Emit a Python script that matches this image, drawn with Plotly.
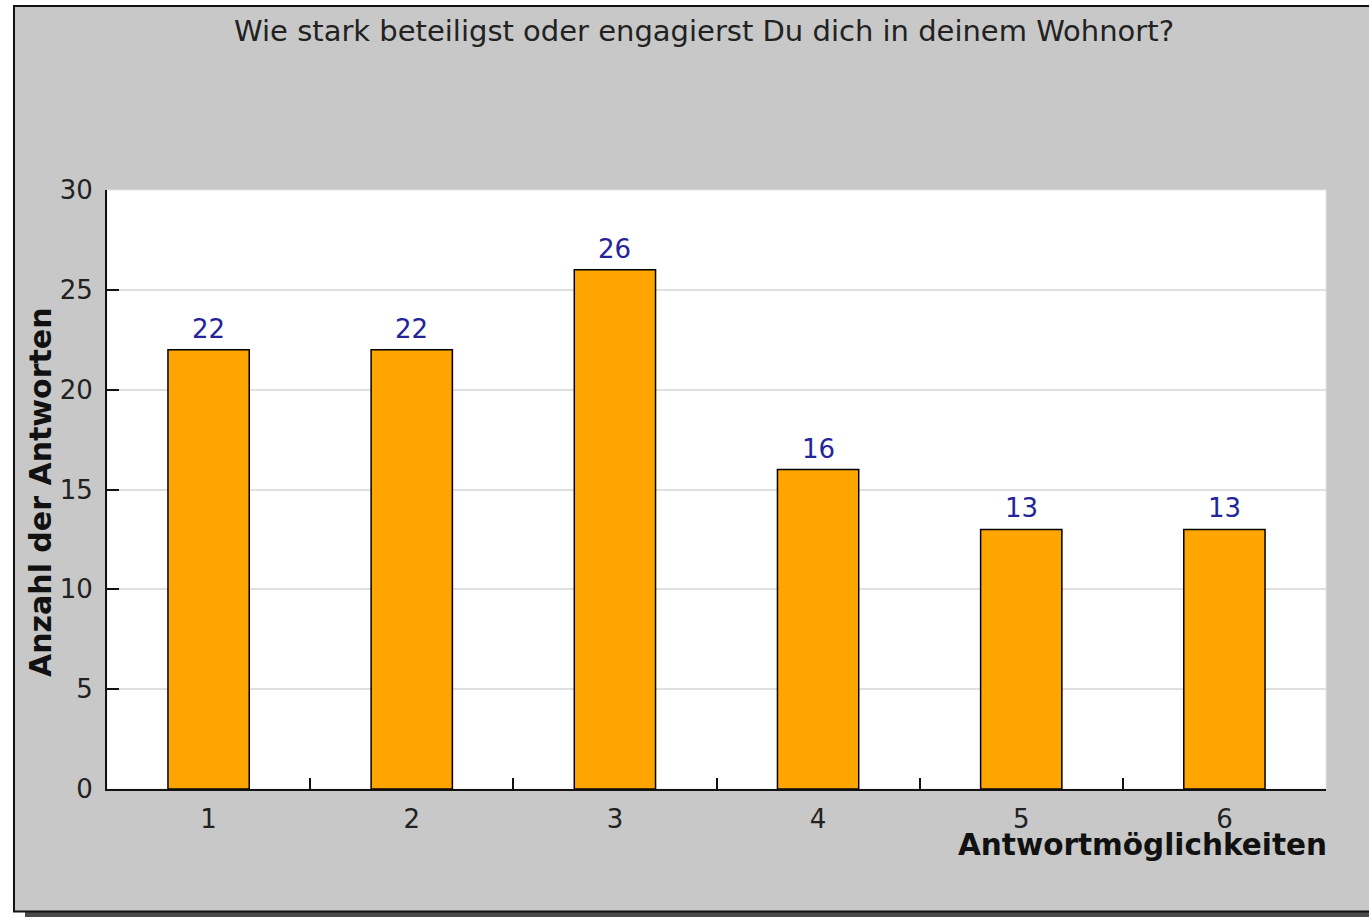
import plotly.graph_objects as go

categories = ["1", "2", "3", "4", "5", "6"]
values = [22, 22, 26, 16, 13, 13]
y_ticks = [0, 5, 10, 15, 20, 25, 30]

title_text = "Wie stark beteiligst oder engagierst Du dich in deinem Wohnort?"
x_title = "Antwortmöglichkeiten"
y_title = "Anzahl der Antworten"

W, H = 1369, 917
L, R, T, B = 107, 43, 190, 128
PW, PH = W - L - R, H - T - B

def px(x):
    return (x - L) / PW

def py(y):
    return (H - B - y) / PH

FONT = "DejaVu Sans"

fig = go.Figure()
fig.add_trace(go.Bar(
    x=categories, y=values, width=0.4,
    marker=dict(color="#FFA500", line=dict(color="#000000", width=1.5)),
    hoverinfo="skip",
))

shapes = [
    # shadow
    dict(type="rect", xref="paper", yref="paper", x0=px(25), x1=px(1400), y0=py(917), y1=py(900),
         fillcolor="#4a4a4a", line=dict(width=0), layer="below"),
    # gray frame
    dict(type="rect", xref="paper", yref="paper", x0=px(14), x1=px(1400), y0=py(911.5), y1=py(6),
         fillcolor="#c8c8c8", line=dict(color="#111111", width=2), layer="below"),
    # white plot area
    dict(type="rect", xref="paper", yref="paper", x0=0, x1=1, y0=0, y1=1,
         fillcolor="#ffffff", line=dict(color="#e4e4e4", width=1), layer="below"),
]

annotations = [
    dict(text=title_text, xref="paper", yref="paper", x=px(704), y=py(31), xanchor="center", yanchor="middle",
         showarrow=False, font=dict(family=FONT, size=29, color="#222222")),
    dict(text=f"<b>{x_title}</b>", xref="paper", yref="paper", x=1.0, y=py(845), xanchor="right", yanchor="middle",
         xshift=3, showarrow=False, font=dict(family=FONT, size=29.5, color="#111111")),
    dict(text=f"<b>{y_title}</b>", xref="paper", yref="paper", x=px(40), y=py(492), xanchor="center", yanchor="middle",
         textangle=-90, showarrow=False, font=dict(family=FONT, size=30, color="#111111")),
]
for i, v in enumerate(values):
    annotations.append(dict(
        text=str(v), xref="x", yref="y", x=i, y=v, xanchor="center", yanchor="middle",
        yshift=21, showarrow=False, font=dict(family=FONT, size=26, color="#24249a"),
    ))

fig.update_layout(
    width=W, height=H,
    margin=dict(l=L, r=R, t=T, b=B, pad=0),
    paper_bgcolor="#ffffff",
    plot_bgcolor="rgba(0,0,0,0)",
    showlegend=False,
    shapes=shapes,
    annotations=annotations,
    font=dict(family=FONT, size=26, color="#222222"),
)
fig.update_xaxes(
    type="category", categoryorder="array", categoryarray=categories,
    range=[-0.5, 5.5],
    showline=True, linecolor="#111111", linewidth=2,
    ticks="inside", tickson="boundaries", ticklen=11, tickwidth=1.5, tickcolor="#111111",
    showgrid=False, zeroline=False,
    tickfont=dict(family=FONT, size=26, color="#222222"),
    ticklabelstandoff=6,
)
fig.update_yaxes(
    range=[0, 30], tickvals=y_ticks,
    showline=True, linecolor="#111111", linewidth=2,
    ticks="inside", ticklen=12, tickwidth=1.5, tickcolor="#111111",
    showgrid=True, gridcolor="#e0e0e0", gridwidth=1.5, zeroline=False,
    tickfont=dict(family=FONT, size=26, color="#222222"),
    ticklabelstandoff=7,
)

fig.write_html("out.html", config={"displayModeBar": False},
               post_script="document.body.style.margin='0';document.body.style.overflow='hidden';")
